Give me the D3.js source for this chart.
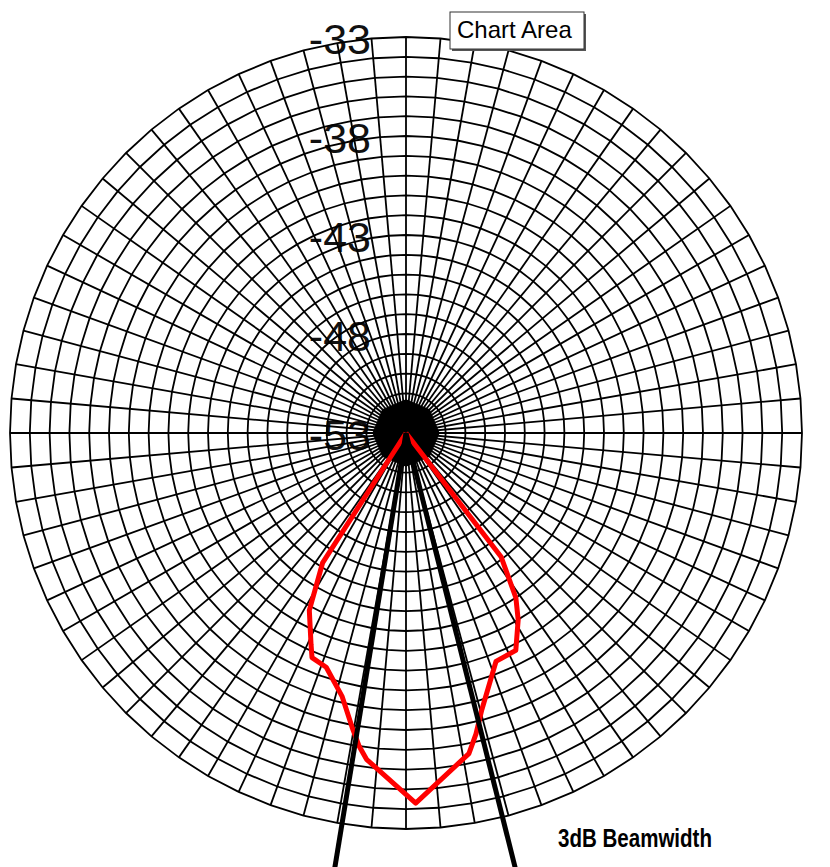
<!DOCTYPE html>
<html><head><meta charset="utf-8">
<script src="https://cdn.jsdelivr.net/npm/d3@7"></script>
<style>body{margin:0;background:#fff}svg{display:block}</style>
</head><body>
<svg id="c" width="830" height="867"></svg>
<script>
// ---- data ----
const ringValues = d3.range(-52, -32, 1);           // grid rings, dB
const labelValues = [-33, -38, -43, -48, -53];       // axis tick labels
const spokeAngles = d3.range(0, 360, 5);            // grid spokes, degrees clockwise from top
const patternAngles = [140, 142.5, 146.3, 149.0, 153.2, 158.5, 164.7, 166.9, 168.9, 178.5,
                       186.9, 188.5, 190.4, 193.6, 198.8, 202.7, 204.2, 208.6, 212.7, 215];
const patternGain   = [-53, -45.1, -43.0, -42.0, -40.7, -40.6, -38.5, -37.4, -36.5, -34.3,
                       -36.4, -37.0, -37.9, -39.3, -40.5, -40.7, -41.3, -42.8, -45.2, -53];
const beamAngles = [189.3, 165.9];                   // 3 dB beamwidth edges
const beamEnd = -30;
const hubValue = -51.3;                              // dense spoke convergence
const beamLabel = "3dB Beamwidth";
const tooltipText = "Chart Area";

// ---- layout ----
const cx = 406, cy = 433, R = 396;
const svg = d3.select("#c");
const r = d3.scaleLinear().domain([-53, -33]).range([0, R]);
const rad = d => d * Math.PI / 180;
const g = svg.append("g").attr("transform", `translate(${cx},${cy})`);

// tick labels (under the grid)
g.append("g").selectAll("text").data(labelValues).join("text")
  .attr("x", -35).attr("y", v => -r(v) + 17)
  .attr("text-anchor", "end")
  .attr("font-family", "Liberation Sans, Arial, sans-serif")
  .attr("font-size", 43).attr("fill", "#111")
  .text(d => d);

// rings
const ring = d3.lineRadial().curve(d3.curveLinearClosed);
g.append("g").selectAll("path").data(ringValues).join("path")
  .attr("d", v => ring(spokeAngles.map(a => [rad(a), r(v)])))
  .attr("fill", "none").attr("stroke", "#000").attr("stroke-width", 1.8);

// spokes
g.append("g").selectAll("line").data(spokeAngles).join("line")
  .attr("x1", 0).attr("y1", 0)
  .attr("x2", a => r(-33) * Math.sin(rad(a)))
  .attr("y2", a => -r(-33) * Math.cos(rad(a)))
  .attr("stroke", "#000").attr("stroke-width", 1.8);

// hub where spokes merge
g.append("path")
  .attr("d", ring(spokeAngles.filter((a, i) => i % 9 === 0).map(a => [rad(a), r(hubValue)])))
  .attr("fill", "#000");

// pattern
const pts = patternAngles.map((a, i) => [rad(a), r(Math.max(-53, patternGain[i]))]);
g.append("path").attr("d", d3.lineRadial()(pts))
  .attr("fill", "none").attr("stroke", "#ff0000").attr("stroke-width", 5)
  .attr("stroke-linejoin", "round");

// beamwidth lines
g.append("g").selectAll("line").data(beamAngles).join("line")
  .attr("x1", 0).attr("y1", 0)
  .attr("x2", a => r(beamEnd) * Math.sin(rad(a)))
  .attr("y2", a => -r(beamEnd) * Math.cos(rad(a)))
  .attr("stroke", "#000").attr("stroke-width", 5);

// annotation
svg.append("text").attr("x", 558).attr("y", 847)
  .attr("font-family", "Liberation Sans, Arial, sans-serif").attr("font-weight", "bold")
  .attr("font-size", 25).attr("textLength", 154).attr("lengthAdjust", "spacingAndGlyphs")
  .text(beamLabel);

// tooltip
const tt = svg.append("g");
tt.append("rect").attr("x", 452).attr("y", 14).attr("width", 134).attr("height", 37).attr("fill", "#555");
tt.append("rect").attr("x", 450).attr("y", 12).attr("width", 134).attr("height", 37)
  .attr("fill", "#fff").attr("stroke", "#333").attr("stroke-width", 1);
tt.append("text").attr("x", 457).attr("y", 38)
  .attr("font-family", "Liberation Sans, Arial, sans-serif").attr("font-size", 24)
  .text(tooltipText);
</script>
</body></html>
